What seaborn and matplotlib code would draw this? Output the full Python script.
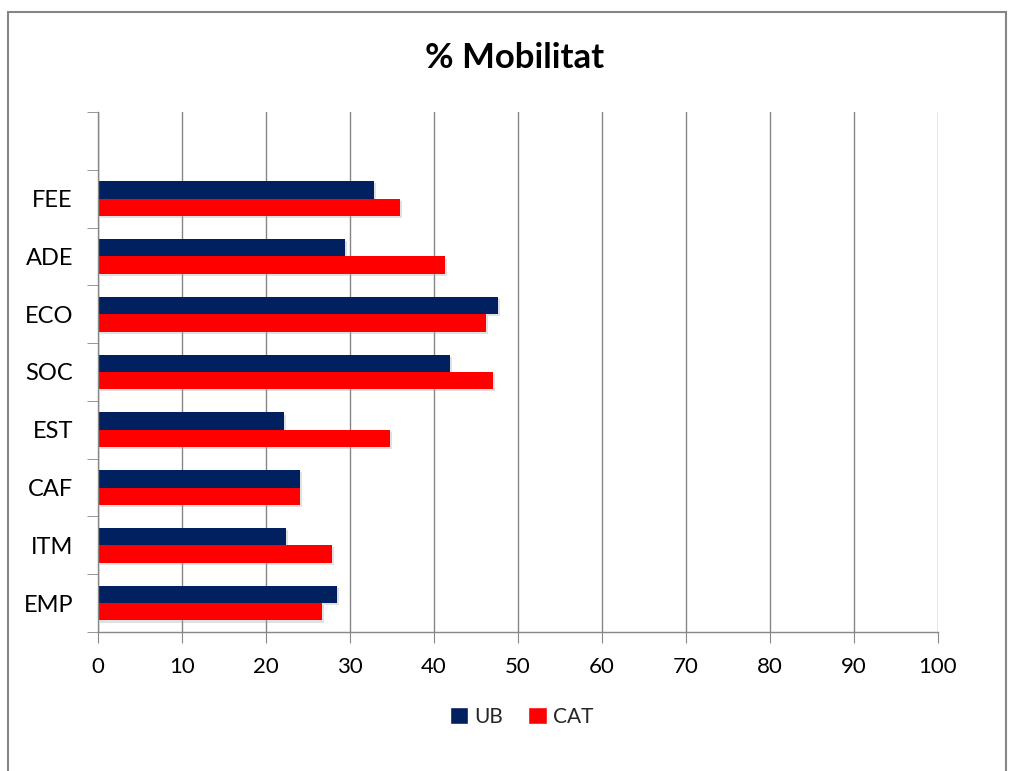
import matplotlib
matplotlib.use('Agg')
import matplotlib.pyplot as plt
import matplotlib.patheffects as pe
from matplotlib.patches import Rectangle, Patch
import pandas as pd
import seaborn as sns

# data
estudis = ['FEE', 'ADE', 'ECO', 'SOC', 'EST', 'CAF', 'ITM', 'EMP']
ub = [32.9, 29.4, 47.6, 41.9, 22.1, 24.0, 22.4, 28.4]
cat = [35.9, 41.3, 46.2, 47.0, 34.8, 24.0, 27.9, 26.7]
xticks = [0, 10, 20, 30, 40, 50, 60, 70, 80, 90, 100]

df = pd.DataFrame({
    'estudi': estudis * 2,
    'valor': ub + cat,
    'grup': ['UB'] * len(estudis) + ['CAT'] * len(estudis),
})

colors = {'UB': '#002060', 'CAT': '#FF0000'}

sns.set_style('white')
plt.rcParams['font.family'] = ['Lato', 'DejaVu Sans']

fig = plt.figure(figsize=(10.09, 7.71), dpi=100)
ax = fig.add_axes([98 / 1009, 1 - 632 / 771, 840 / 1009, 520 / 771])

# empty slot at the top, like the original
order = [''] + estudis
sns.barplot(data=df, y='estudi', x='valor', hue='grup', order=order,
            hue_order=['UB', 'CAT'], palette=colors, width=0.6, gap=0,
            orient='h', legend=False, ax=ax, saturation=1)

for bar in ax.patches:
    bar.set_path_effects([pe.SimplePatchShadow(offset=(1.5, -1.5), shadow_rgbFace='#aaaaaa', alpha=0.35), pe.Normal()])
    bar.set_linewidth(0)

ax.set_xlim(0, 100)
ax.set_ylim(len(order) - 0.5, -0.5)
ax.set_xticks(xticks)
ax.set_xticklabels([str(t) for t in xticks], fontsize=16, color='black')
ax.xaxis.grid(True, color='#868686', linewidth=1)
ax.set_axisbelow(True)
ax.tick_params(axis='x', length=8, color='#868686', direction='out', pad=10, bottom=True)

ax.set_yticks(range(len(order)))
ax.set_yticklabels(order, fontsize=17, color='black')
ax.tick_params(axis='y', which='major', length=0, pad=18)
ax.set_yticks([i - 0.5 for i in range(len(order) + 1)], minor=True)
ax.tick_params(axis='y', which='minor', length=8, color='#868686', direction='out', left=True)

ax.set_xlabel('')
ax.set_ylabel('')
for s in ['top', 'right']:
    ax.spines[s].set_visible(False)
for s in ['left', 'bottom']:
    ax.spines[s].set_color('#868686')
    ax.spines[s].set_linewidth(1)

fig.text(0.51, 1 - 58 / 771, '% Mobilitat', ha='center', va='center',
         fontsize=25, fontweight='bold', color='black')

handles = [Patch(facecolor=colors['UB'], label='UB'),
           Patch(facecolor=colors['CAT'], label='CAT')]
fig.legend(handles=handles, loc='center', bbox_to_anchor=(0.517, 1 - 717 / 771),
           ncol=2, frameon=False, fontsize=15, handlelength=0.9, handleheight=0.9,
           handletextpad=0.3, columnspacing=1.2)

# outer chart frame
fig.patches.append(Rectangle((8 / 1009, -0.01), 998 / 1009, 1 - 12 / 771 + 0.01,
                             transform=fig.transFigure, fill=False,
                             edgecolor='#868686', linewidth=1.5))

fig.savefig('out.png', dpi=100)
